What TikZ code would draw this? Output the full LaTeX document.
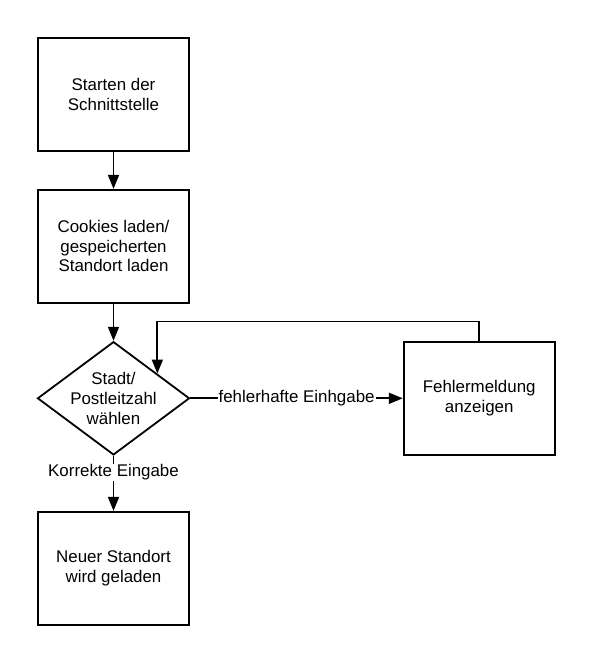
\documentclass[tikz,border=0pt]{standalone}
\usepackage{fontspec}
\setmainfont{Liberation Sans}
\usetikzlibrary{shapes.geometric,arrows.meta,calc}
\begin{document}
\begin{tikzpicture}[x=1pt,y=-1pt,
  txt/.style={font=\fontsize{16.9}{19.5}\selectfont},
  box/.style={draw, line width=1.8pt, minimum width=151pt, minimum height=113pt, align=center, txt, inner sep=0pt},
  conn/.style={line width=1.8pt, -{Triangle[length=14pt,width=11pt]}},
  lbl/.style={fill=white, inner sep=1pt, txt}]
\useasboundingbox[fill=white] (0,0) rectangle (593,664);
\node[box] (s) at (113.5,94.3) {Starten der\\Schnittstelle};
\node[box] (c) at (113.5,246.3) {Cookies laden/\\gespeicherten\\Standort laden};
\node[draw, diamond, line width=1.8pt, minimum width=152pt, minimum height=113.3pt, inner sep=0pt,
  label={[align=center,font=\fontsize{16.9}{20}\selectfont]center:Stadt/\\Postleitzahl\\wählen}] (d) at (113.5,398.3) {};
\node[box] (n) at (113.5,568.3) {Neuer Standort\\wird geladen};
\node[box] (f) at (479.2,398.3) {Fehlermeldung\\anzeigen};
\draw[conn] (s) -- (c);
\draw[conn] (c) -- (d);
\draw[conn] (d) -- node[lbl]{fehlerhafte Einhgabe} (f);
\draw[conn] (d) -- node[lbl, pos=0.3]{Korrekte Eingabe} (n);
\coordinate (dk) at ($(d.north)!0.57!(d.east)$);
\draw[conn] (f.north) -- ++(0,-19.4) -| (dk);
\end{tikzpicture}
\end{document}
